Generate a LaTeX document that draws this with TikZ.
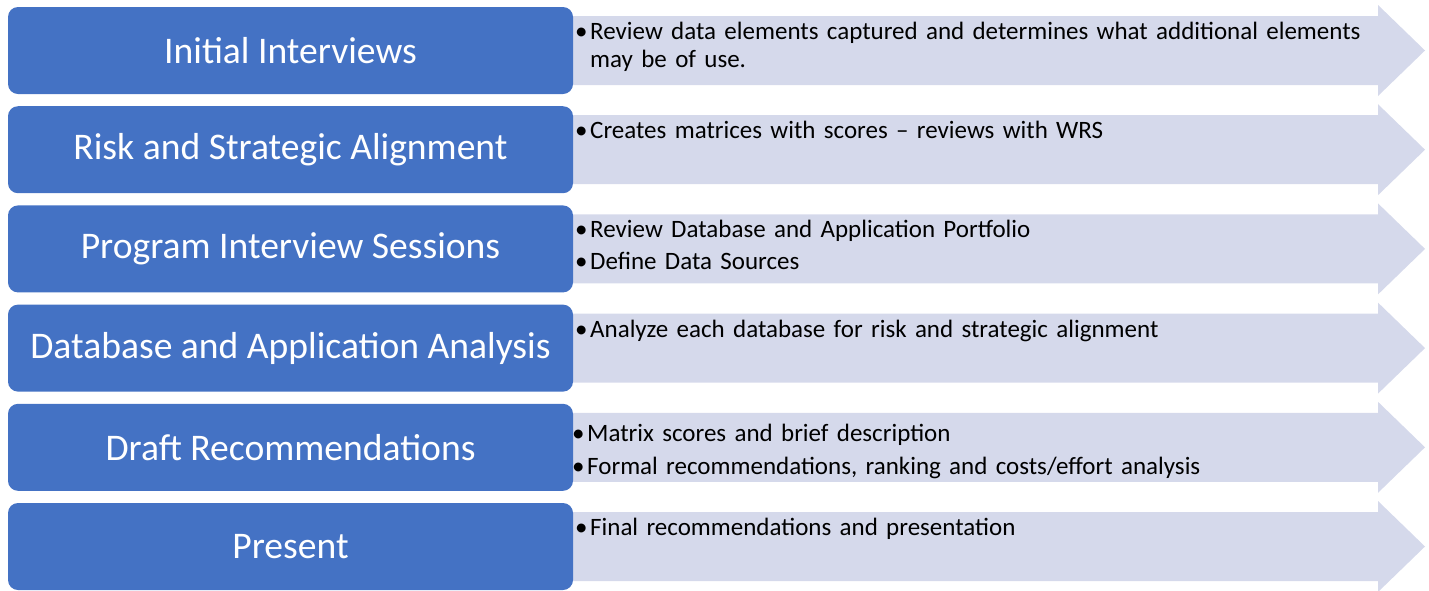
\documentclass[tikz,border=0pt]{standalone}
\usepackage{fontspec}
\setmainfont{Carlito}
\usetikzlibrary{positioning,backgrounds}
\definecolor{stageblue}{HTML}{4472C4}
\definecolor{bandfill}{HTML}{D5D9EB}
\newcommand{\bitem}[1]{\makebox[15pt][l]{\textbullet}#1}
\newcommand{\bandarrow}[1]{\fill[band] ([shift={(-12pt,-9pt)}]#1.north east) -- ++(817pt,0) -- ++(0,11pt) -- ([xshift=852pt]#1.east) -- ([shift={(805pt,-2pt)}]#1.south east) -- ++(0,11pt) -- ([shift={(-12pt,9pt)}]#1.south east) -- cycle;}

\begin{document}
\begin{tikzpicture}[node distance=12.2pt]
	\tikzstyle{stage}=[rounded corners=10pt, fill=stageblue, text=white, minimum width=565pt, minimum height=87pt, inner sep=0pt, outer sep=0pt, font=\fontsize{37.6}{44}\selectfont]
	\tikzstyle{band}=[fill=bandfill]
	\tikzstyle{detail}=[anchor=north west, inner sep=0pt, text width=820pt, align=left, font=\fontsize{25}{28}\selectfont]

	\useasboundingbox (0,0) rectangle (1429pt,-590pt);

	\node (s1) [stage, anchor=north west] at (8pt,-7pt) {Initial Interviews};
	\node (s2) [stage, below=of s1] {Risk and Strategic Alignment};
	\node (s3) [stage, below=of s2] {Program Interview Sessions};
	\node (s4) [stage, below=of s3] {Database and Application Analysis};
	\node (s5) [stage, below=of s4] {Draft Recommendations};
	\node (s6) [stage, below=of s5] {Present};

	\begin{pgfonlayer}{background}
	\bandarrow{s1}
	\bandarrow{s2}
	\bandarrow{s3}
	\bandarrow{s4}
	\bandarrow{s5}
	\bandarrow{s6}
	\end{pgfonlayer}

	\node (t1) [detail, below right=15pt and 2pt of s1.north east] {\bitem{Review data elements captured and determines what additional elements}\\\hspace*{15pt}may be of use.};
	\node (t2) [detail, below right=15pt and 2pt of s2.north east] {\bitem{Creates matrices with scores -- reviews with WRS}};
	\node (t3) [detail, below right=15pt and 2pt of s3.north east] {\bitem{Review Database and Application Portfolio}\\[4pt]\bitem{Define Data Sources}};
	\node (t4) [detail, below right=15pt and 2pt of s4.north east] {\bitem{Analyze each database for risk and strategic alignment}};
	\node (t5) [detail, below right=20pt and -1pt of s5.north east] {\bitem{Matrix scores and brief description}\\[5pt]\bitem{Formal recommendations, ranking and costs/effort analysis}};
	\node (t6) [detail, below right=15pt and 2pt of s6.north east] {\bitem{Final recommendations and presentation}};
\end{tikzpicture}
\end{document}
